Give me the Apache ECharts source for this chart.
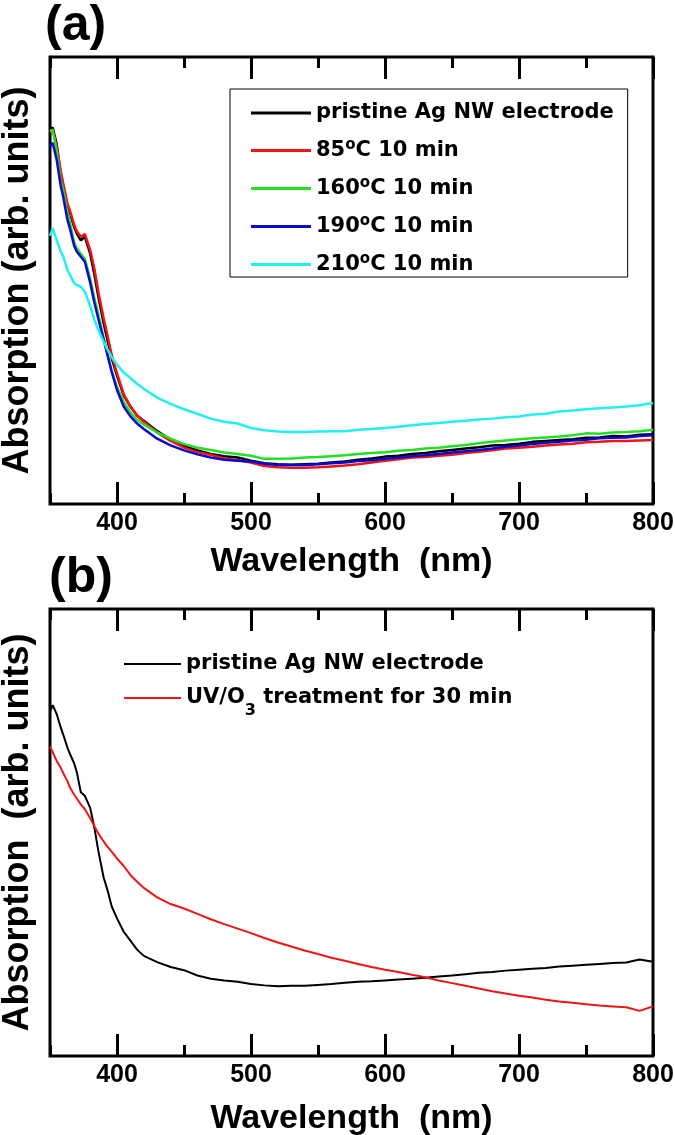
<!DOCTYPE html>
<html>
<head>
<meta charset="utf-8">
<script src="https://cdn.jsdelivr.net/npm/echarts@6.0.0/dist/echarts.min.js"></script>
<style>
  html, body { margin: 0; padding: 0; background: #fff; }
  #chart { width: 675px; height: 1135px; }
</style>
</head>
<body>
<div id="chart"></div>
<script>
  // wavelength grid (nm), shared by both panels
  var wave = [350, 352, 355, 358, 360, 363, 365, 368, 370, 373, 376, 380, 383, 386, 390, 393, 396, 400, 405, 410, 415, 420,
    430, 440, 450, 460, 470, 480, 490, 500, 510, 520, 530, 540, 550, 560, 570, 580, 590, 600, 610, 620, 630, 640, 650,
    660, 670, 680, 690, 700, 710, 720, 730, 740, 750, 760, 770, 780, 790, 800];

  var majorTicks = [400, 500, 600, 700, 800];

  // panel (a) - thermal treatment
  var namesA = ['pristine Ag NW electrode', '85°C 10 min', '160°C 10 min', '190°C 10 min', '210°C 10 min'];
  var colorsA = ['#000000', '#f01414', '#22e022', '#0a0ad2', '#22f0f0'];

  var pristineA = [0.838, 0.842, 0.805, 0.738, 0.710, 0.668, 0.650, 0.620, 0.605, 0.590, 0.598, 0.560, 0.515, 0.465, 0.405, 0.365, 0.327, 0.287, 0.243, 0.218, 0.198, 0.186,
    0.163, 0.144, 0.130, 0.120, 0.112, 0.107, 0.104, 0.097, 0.091, 0.089, 0.088, 0.089, 0.090, 0.093, 0.095, 0.099, 0.102, 0.106, 0.108, 0.112, 0.114, 0.118, 0.121,
    0.124, 0.127, 0.131, 0.132, 0.135, 0.139, 0.141, 0.143, 0.145, 0.148, 0.149, 0.152, 0.151, 0.155, 0.156];
  var t85 = [0.832, 0.838, 0.800, 0.745, 0.715, 0.672, 0.655, 0.625, 0.610, 0.598, 0.604, 0.568, 0.528, 0.476, 0.416, 0.376, 0.334, 0.292, 0.246, 0.218, 0.198, 0.184,
    0.160, 0.141, 0.126, 0.116, 0.110, 0.102, 0.098, 0.093, 0.085, 0.082, 0.081, 0.081, 0.082, 0.084, 0.086, 0.089, 0.093, 0.097, 0.100, 0.104, 0.105, 0.108, 0.110,
    0.114, 0.117, 0.120, 0.124, 0.126, 0.128, 0.131, 0.133, 0.135, 0.138, 0.139, 0.141, 0.141, 0.142, 0.143];
  var t160 = [0.834, 0.837, 0.790, 0.725, 0.700, 0.652, 0.628, 0.585, 0.572, 0.560, 0.548, 0.505, 0.462, 0.425, 0.372, 0.335, 0.298, 0.262, 0.228, 0.205, 0.188, 0.178,
    0.160, 0.146, 0.134, 0.126, 0.121, 0.115, 0.112, 0.108, 0.101, 0.101, 0.102, 0.104, 0.105, 0.107, 0.109, 0.112, 0.114, 0.116, 0.119, 0.121, 0.124, 0.126, 0.129,
    0.132, 0.136, 0.139, 0.142, 0.145, 0.147, 0.149, 0.151, 0.154, 0.158, 0.157, 0.160, 0.161, 0.163, 0.166];
  var t190 = [0.800, 0.808, 0.770, 0.712, 0.685, 0.636, 0.615, 0.578, 0.565, 0.553, 0.542, 0.495, 0.452, 0.415, 0.368, 0.332, 0.296, 0.255, 0.218, 0.196, 0.180, 0.168,
    0.146, 0.131, 0.120, 0.111, 0.104, 0.099, 0.097, 0.095, 0.090, 0.087, 0.087, 0.087, 0.089, 0.091, 0.093, 0.096, 0.098, 0.101, 0.104, 0.107, 0.109, 0.112, 0.115,
    0.118, 0.121, 0.124, 0.128, 0.131, 0.134, 0.137, 0.139, 0.142, 0.144, 0.147, 0.148, 0.149, 0.152, 0.154];
  var t210 = [0.600, 0.617, 0.590, 0.565, 0.553, 0.523, 0.512, 0.494, 0.490, 0.486, 0.475, 0.443, 0.413, 0.390, 0.363, 0.345, 0.329, 0.312, 0.294, 0.282, 0.269, 0.258,
    0.238, 0.224, 0.212, 0.202, 0.191, 0.184, 0.180, 0.170, 0.165, 0.162, 0.161, 0.161, 0.162, 0.163, 0.163, 0.166, 0.168, 0.170, 0.173, 0.176, 0.179, 0.181, 0.184,
    0.186, 0.189, 0.191, 0.194, 0.196, 0.200, 0.202, 0.207, 0.209, 0.212, 0.214, 0.216, 0.218, 0.221, 0.226];

  // panel (b) - UV/O3 treatment
  var namesB = ['pristine Ag NW electrode', 'UV/O3 treatment for 30 min'];
  var colorsB = ['#000000', '#f01414'];

  var pristineB = [0.770, 0.785, 0.765, 0.735, 0.718, 0.690, 0.675, 0.655, 0.635, 0.590, 0.582, 0.555, 0.513, 0.460, 0.400, 0.370, 0.335, 0.308, 0.278, 0.258, 0.238, 0.224,
    0.210, 0.199, 0.192, 0.180, 0.173, 0.169, 0.166, 0.161, 0.158, 0.156, 0.157, 0.157, 0.159, 0.161, 0.164, 0.166, 0.167, 0.169, 0.171, 0.173, 0.175, 0.178, 0.180,
    0.183, 0.186, 0.188, 0.191, 0.193, 0.195, 0.197, 0.200, 0.202, 0.204, 0.206, 0.208, 0.209, 0.216, 0.211];
  var uvo3 = [0.692, 0.680, 0.660, 0.645, 0.632, 0.615, 0.600, 0.585, 0.576, 0.563, 0.552, 0.532, 0.515, 0.498, 0.480, 0.468, 0.457, 0.442, 0.425, 0.405, 0.390, 0.376,
    0.355, 0.340, 0.330, 0.318, 0.306, 0.295, 0.285, 0.275, 0.264, 0.254, 0.245, 0.236, 0.228, 0.220, 0.213, 0.206, 0.199, 0.193, 0.188, 0.182, 0.176, 0.169, 0.163,
    0.157, 0.151, 0.145, 0.140, 0.135, 0.131, 0.126, 0.122, 0.119, 0.116, 0.113, 0.111, 0.109, 0.101, 0.111];

  var seriesA = [pristineA, t85, t160, t190, t210];
  var seriesB = [pristineB, uvo3];

  var chart = echarts.init(document.getElementById('chart'));

  function pairs(ys) {
    return wave.map(function (w, i) { return [w, ys[i]]; });
  }

  // rich text for the degree sign and the subscript
  var rich = {
    sup: { fontSize: 15, fontWeight: 'bold', fontFamily: 'DejaVu Sans', color: '#000', lineHeight: 24, padding: [0, 0, 10, 0] },
    sub: { fontSize: 16, fontWeight: 'bold', fontFamily: 'DejaVu Sans', color: '#000', lineHeight: 24, padding: [26, 0, 0, 0] }
  };
  function legendText(name) {
    return name.replace('°', '{sup|o}').replace('UV/O3', 'UV/O{sub|3}');
  }

  var tickFont = { fontFamily: 'Liberation Sans', fontWeight: 'bold', fontSize: 25, color: '#000' };
  var nameFont = { fontFamily: 'Liberation Sans', fontWeight: 'bold', fontSize: 34, color: '#000' };

  function xAxes(g, nameGap) {
    var base = { type: 'value', gridIndex: g, min: 350, max: 800, axisLine: { show: false }, splitLine: { show: false } };
    return [
      Object.assign({}, base, {
        position: 'bottom',
        axisTick: { inside: true, length: 22, lineStyle: { width: 3, color: '#000' }, customValues: majorTicks },
        axisLabel: Object.assign({ customValues: majorTicks, margin: 7 }, tickFont),
        name: 'Wavelength  (nm)', nameLocation: 'middle', nameGap: nameGap, nameTextStyle: nameFont
      }),
      Object.assign({}, base, {
        position: 'bottom', interval: 50,
        axisTick: { inside: true, length: 11, lineStyle: { width: 3, color: '#000' } },
        axisLabel: { show: false }
      }),
      Object.assign({}, base, {
        position: 'top',
        axisTick: { inside: true, length: 22, lineStyle: { width: 3, color: '#000' }, customValues: majorTicks },
        axisLabel: { show: false }
      }),
      Object.assign({}, base, {
        position: 'top', interval: 50,
        axisTick: { inside: true, length: 11, lineStyle: { width: 3, color: '#000' } },
        axisLabel: { show: false }
      })
    ];
  }

  function yAxis(g, name) {
    return {
      type: 'value', gridIndex: g, min: 0, max: 1,
      axisLine: { show: false }, axisTick: { show: false }, axisLabel: { show: false }, splitLine: { show: false },
      name: name, nameLocation: 'middle', nameGap: 14,
      nameTextStyle: { fontFamily: 'Liberation Sans', fontWeight: 'bold', fontSize: 36, color: '#000' }
    };
  }

  var series = [];
  seriesA.forEach(function (ys, i) {
    series.push({
      name: namesA[i], type: 'line', xAxisIndex: 0, yAxisIndex: 0, data: pairs(ys),
      showSymbol: false, color: colorsA[i], lineStyle: { width: 2.5, color: colorsA[i] }
    });
  });
  seriesB.forEach(function (ys, i) {
    series.push({
      name: namesB[i], type: 'line', xAxisIndex: 4, yAxisIndex: 1, data: pairs(ys),
      showSymbol: false, color: colorsB[i], lineStyle: { width: 2, color: colorsB[i] }
    });
  });

  var legendTextStyle = { fontFamily: 'DejaVu Sans', fontWeight: 'bold', fontSize: 21, lineHeight: 24, color: '#000', rich: rich };

  var option = {
    backgroundColor: '#fff',
    animation: false,
    grid: [
      { left: 50, top: 57, width: 603, height: 447, show: true, borderColor: '#000', borderWidth: 3, outerBoundsMode: 'none' },
      { left: 50, top: 609, width: 603, height: 447, show: true, borderColor: '#000', borderWidth: 3, outerBoundsMode: 'none' }
    ],
    xAxis: xAxes(0, 41).concat(xAxes(1, 46)),
    yAxis: [yAxis(0, 'Absorption (arb. units)'), yAxis(1, 'Absorption  (arb. units)')],
    legend: [
      {
        data: namesA, orient: 'vertical', left: 230, top: 89, selectedMode: false,
        icon: 'rect', itemWidth: 60, itemHeight: 3, itemGap: 13,
        padding: [12, 14, 0, 21], borderColor: '#000', borderWidth: 1,
        textStyle: legendTextStyle, formatter: legendText
      },
      {
        data: namesB, orient: 'vertical', left: 124, top: 652, selectedMode: false,
        icon: 'rect', itemWidth: 57, itemHeight: 2, itemGap: 1, padding: 0,
        textStyle: legendTextStyle, formatter: legendText
      }
    ],
    graphic: [
      { type: 'text', left: 45, top: 1, style: { text: '(a)', font: 'bold 50px "Liberation Sans"', fill: '#000' } },
      { type: 'text', left: 49, top: 553, style: { text: '(b)', font: 'bold 50px "Liberation Sans"', fill: '#000' } }
    ],
    series: series
  };

  chart.setOption(option);
</script>
</body>
</html>
